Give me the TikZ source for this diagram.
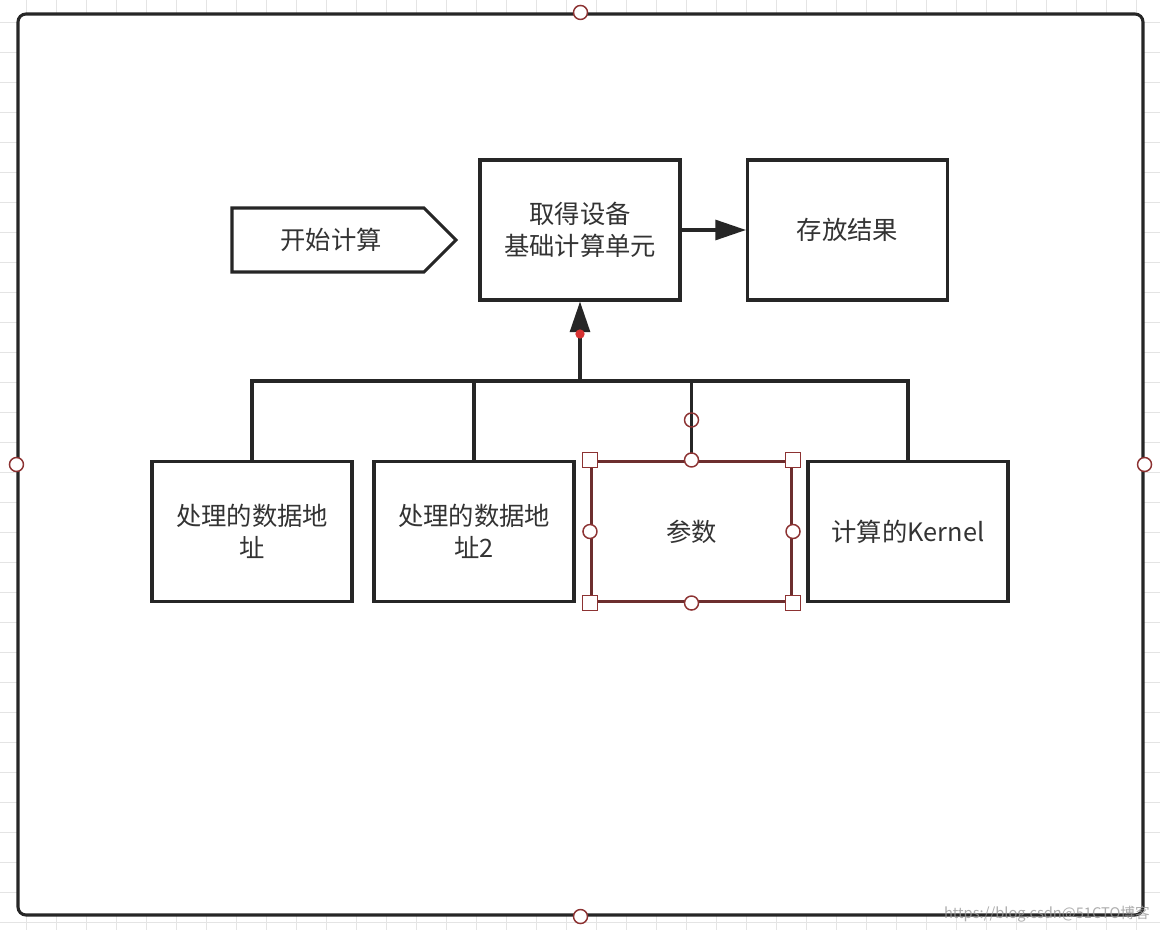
\documentclass[tikz,border=0pt]{standalone}
\usepackage{fontspec}
\setmainfont{Noto Sans CJK SC}
\usetikzlibrary{arrows.meta}
\definecolor{linegray}{RGB}{38,38,38}
\definecolor{txtgray}{RGB}{51,51,51}
\definecolor{gridgray}{RGB}{228,228,228}
\definecolor{selred}{RGB}{140,50,50}
\definecolor{dotred}{RGB}{215,50,50}

\tikzset{
  box/.style={draw=linegray, line width=2.3pt, fill=white, minimum width=150pt,
    minimum height=105pt, inner sep=0pt, text=txtgray, align=center,
    font=\fontsize{19}{23.5}\selectfont},
  conn/.style={draw=linegray, line width=2.3pt},
  headarrow/.style={conn, -{Triangle[length=23pt,width=15pt]}},
  hsq/.style={draw=selred, line width=1.1pt, fill=white, minimum size=11pt, inner sep=0pt},
  hcirc/.style={circle, draw=selred, line width=1.1pt, fill=white, minimum size=10.5pt, inner sep=0pt},
  gridline/.style={draw=gridgray, line width=0.9pt},
}

\begin{document}
\begin{tikzpicture}[x=0.75pt,y=0.75pt,yscale=-1,xscale=1]
\useasboundingbox (0,0) rectangle (1160,930);

% background grid
\foreach \gx in {0,...,38}
  \draw[gridline] (26.7+30*\gx,0) -- (26.7+30*\gx,930);
\foreach \gy in {0,...,30}
  \draw[gridline] (0,22.7+30*\gy) -- (1160,22.7+30*\gy);

% outer frame
\node[draw=linegray, line width=2.3pt, fill=white, rounded corners=6pt,
  minimum width=843.75pt, minimum height=675.75pt] (frame) at (580.5,464.5) {};

% start shape
\draw[conn] (232,208) -- (424,208) -- (456,240) -- (424,272) -- (232,272) -- cycle;
\node[text=txtgray, font=\fontsize{19}{23.5}\selectfont] (start) at (331,240) {开始计算};

% top boxes
\node[box] (unit) at (580,230) {取得设备\\基础计算单元};
\node[box] (store) at (847.5,230) {存放结果};

% bottom boxes
\node[box] (d1) at (252,531.5) {处理的数据地\\址};
\node[box] (d2) at (474,531.5) {处理的数据地\\址2};
\node[box, draw=selred!70!linegray] (d3) at (691.5,531.5) {参数};
\node[box] (d4) at (908,531.5) {计算的Kernel};

% connectors
\coordinate (bus) at (580,381);
\draw[headarrow] (unit.east) -- (store.west);
\draw[conn] (d1.north) |- (d4.north |- bus) -- (d4.north);
\draw[conn] (d2.north) -- (d2.north |- bus);
\draw[conn] (d3.north) -- (d3.north |- bus);
\draw[headarrow] (bus) -- (unit.south);
\fill[dotred] (580,334) circle (3.5pt);

% selection handles
\foreach \a [count=\i] in {north west, north east, south west, south east}
  \node[hsq] (sq\i) at (d3.\a) {};
\foreach \a [count=\i] in {north, south, west, east}
  \node[hcirc] (hc\i) at (d3.\a) {};
\node[hcirc, fill=none] (rot) at ([yshift=-30pt]d3.north) {};
\foreach \a [count=\i] in {north, south, west, east}
  \node[hcirc] (fc\i) at (frame.\a) {};

% watermark
\node[text=black!40, opacity=0.8, font=\fontsize{11}{13}\selectfont, anchor=south east,
  inner sep=0pt] (wm) at (1150,922) {https://blog.csdn@51CTO博客};

\end{tikzpicture}
\end{document}
